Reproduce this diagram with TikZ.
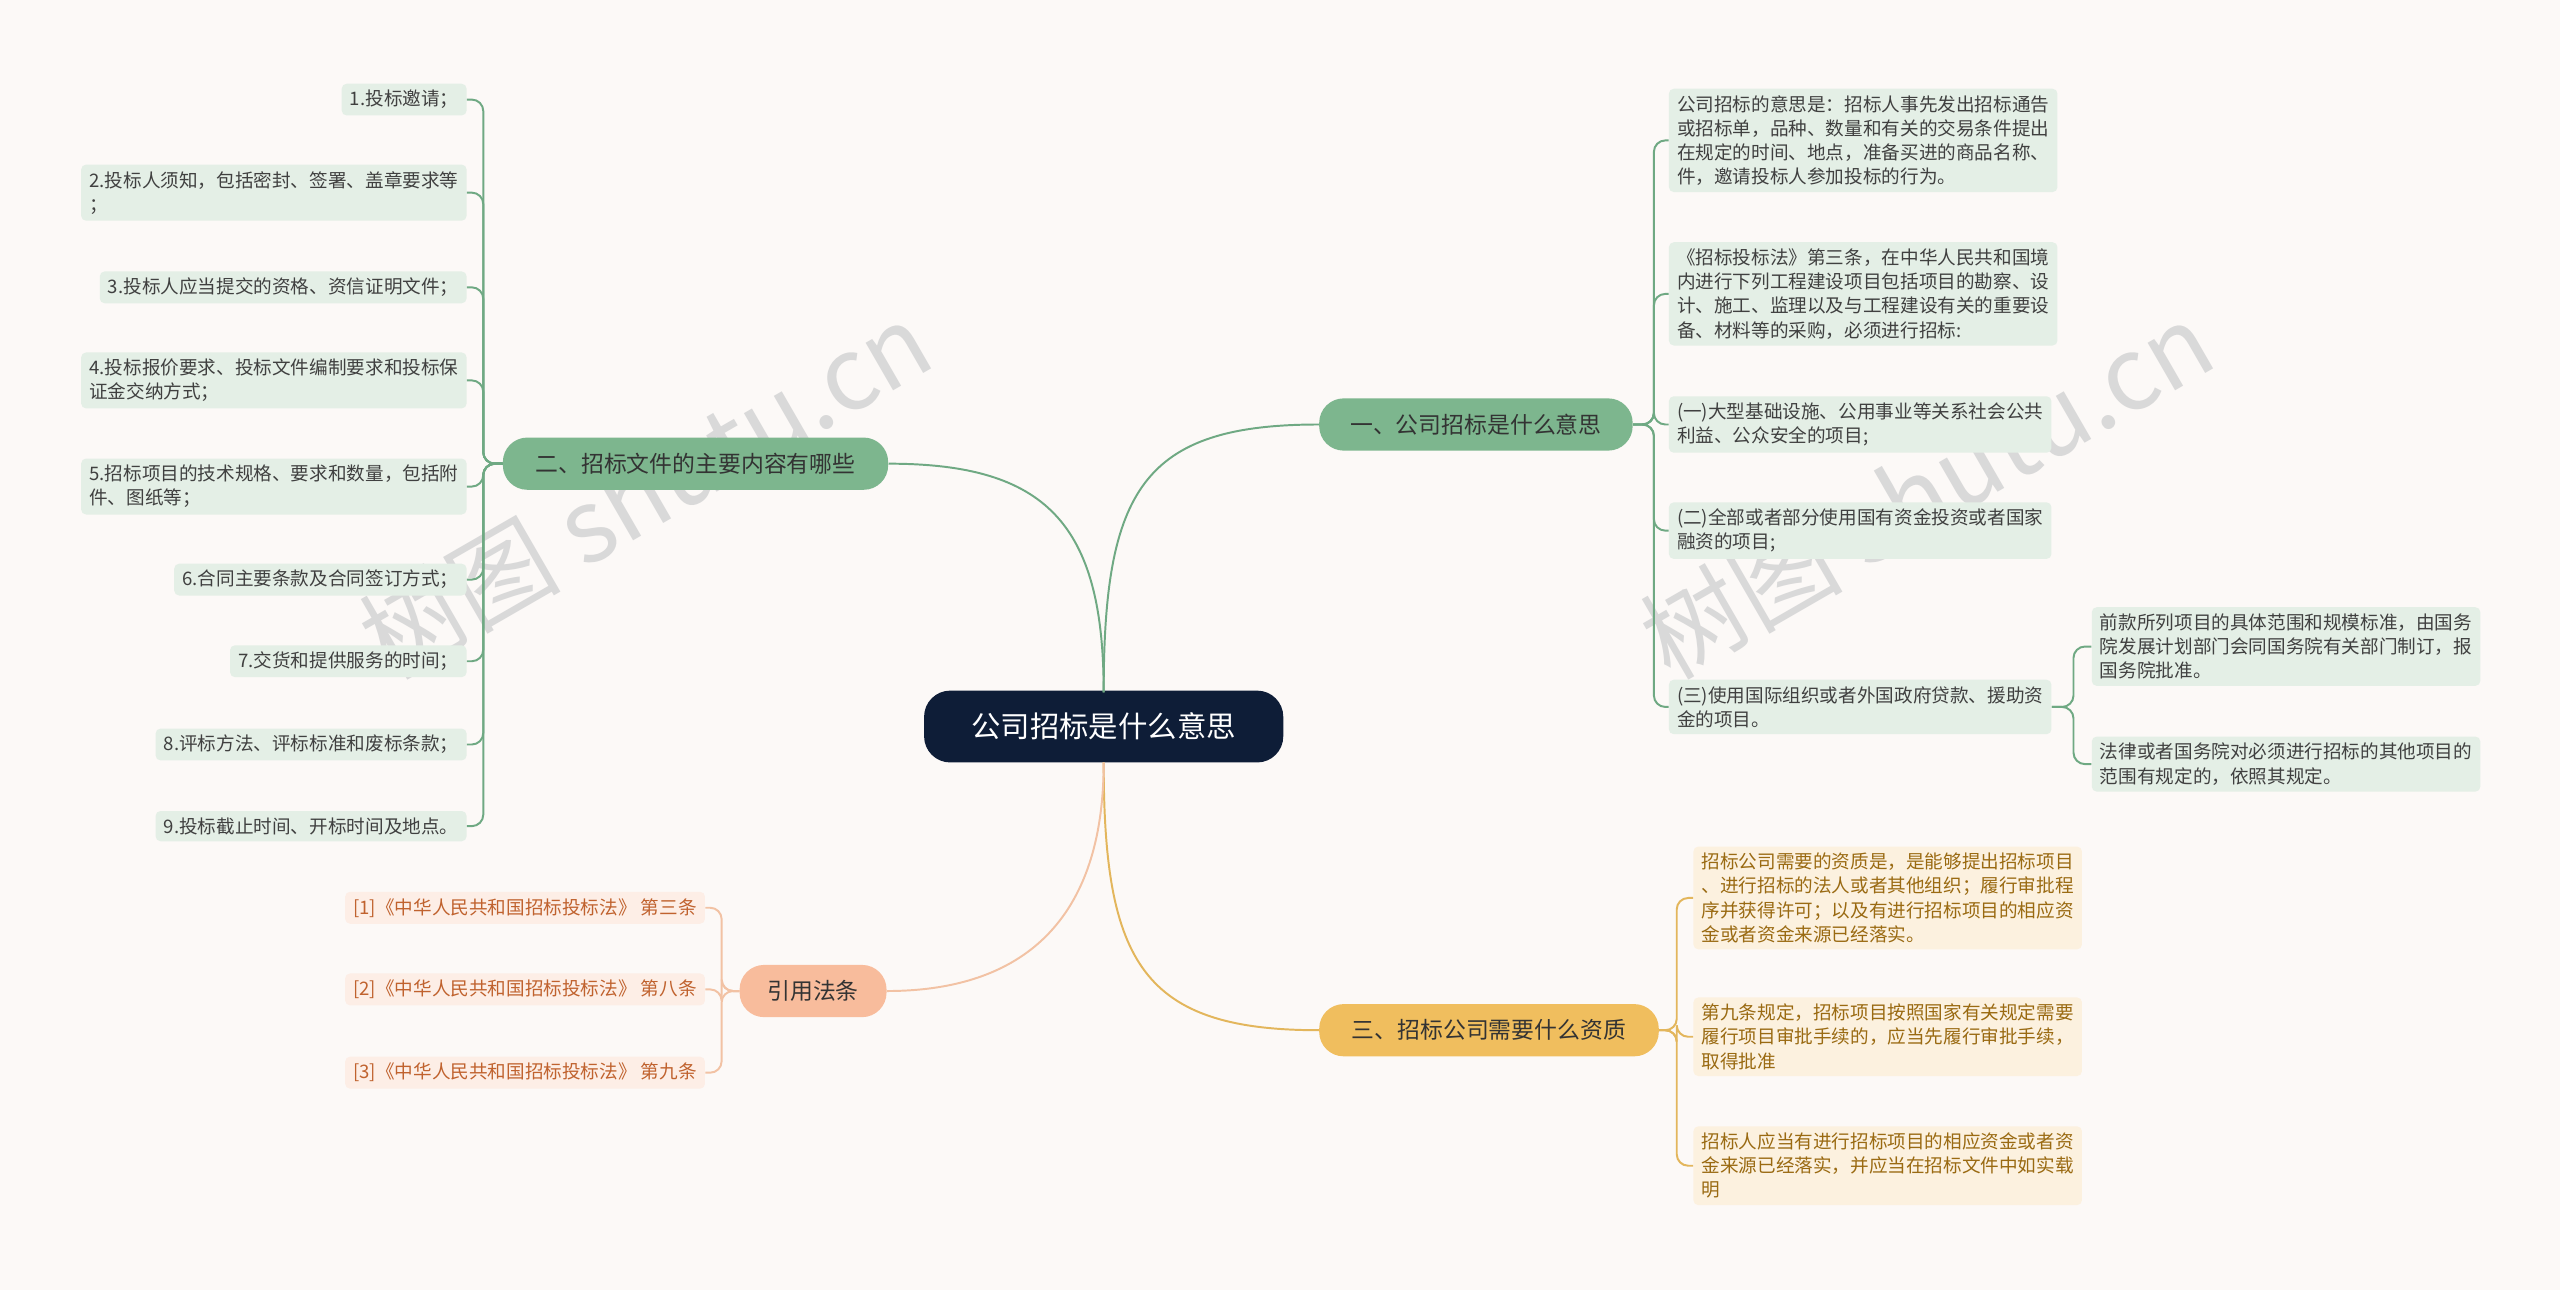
\documentclass[tikz,border=0pt]{standalone}
\usepackage{fontspec}
\setmainfont{Noto Sans CJK SC}
\definecolor{bg}{HTML}{FCF9F7}
\definecolor{navy}{HTML}{0E1D37}
\definecolor{gfill}{HTML}{7DB68E}
\definecolor{gline}{HTML}{6FA983}
\definecolor{gleaf}{HTML}{E4EFE6}
\definecolor{yfill}{HTML}{F0BE5E}
\definecolor{yline}{HTML}{E3B65C}
\definecolor{yleaf}{HTML}{FCF1DF}
\definecolor{ytext}{HTML}{9A6A12}
\definecolor{ofill}{HTML}{F8BC9C}
\definecolor{oline}{HTML}{F2C2A4}
\definecolor{oleaf}{HTML}{FDEEE6}
\definecolor{otext}{HTML}{C0622E}
\tikzset{
 leaf/.style={rounded corners=3pt,inner xsep=5pt,inner ysep=4pt,align=left,font=\fontsize{11.4}{14.8}\selectfont,text=black!75},
 gleafbox/.style={leaf,fill=gleaf},
 yleafbox/.style={leaf,fill=yleaf,text=ytext},
 oleafbox/.style={leaf,fill=oleaf,text=otext},
 branch/.style={rounded corners=15pt,minimum height=32pt,inner xsep=14pt,font=\fontsize{14}{16}\selectfont,text=black!80},
 gc/.style={draw=gline,line width=1.2pt},
 yc/.style={draw=yline,line width=1.2pt},
 oc/.style={draw=oline,line width=1.2pt},
 br/.style={rounded corners=7pt},
}
\begin{document}
\begin{tikzpicture}[x=1pt,y=-1pt]
\fill[bg] (0,0) rectangle (1568,790);
\useasboundingbox (0,0) rectangle (1568,790);
\node[rotate=30,text=black!15,font=\fontsize{62}{62}\selectfont] at (395,300) {树图 shutu.cn};
\node[rotate=30,text=black!15,font=\fontsize{62}{62}\selectfont] at (1180,300) {树图 shutu.cn};

\node[fill=navy,text=white,rounded corners=16pt,minimum width=220pt,minimum height=44pt,font=\fontsize{18}{20}\selectfont] (c) at (676,445) {公司招标是什么意思};
\node[branch,fill=gfill,minimum width=192pt] (b1) at (904,260) {一、公司招标是什么意思};
\node[branch,fill=gfill,minimum width=236pt] (b2) at (426,284) {二、招标文件的主要内容有哪些};
\node[branch,fill=yfill,minimum width=208pt] (b3) at (912,631) {三、招标公司需要什么资质};
\node[branch,fill=ofill,minimum width=90pt] (b4) at (498,607) {引用法条};

\draw[gc] (676,424) .. controls (676,300) and (700,260) .. (b1.west);
\draw[gc] (676,424) .. controls (676,320) and (640,284) .. (b2.east);
\draw[yc] (676,467) .. controls (676,590) and (700,631) .. (b3.west);
\draw[oc] (676,467) .. controls (676,570) and (620,607) .. (b4.east);

% branch 1 leaves
\node[gleafbox,anchor=west] (l1) at (1022,86) {公司招标的意思是：招标人事先发出招标通告\\或招标单，品种、数量和有关的交易条件提出\\在规定的时间、地点，准备买进的商品名称、\\件，邀请投标人参加投标的行为。};
\node[gleafbox,anchor=west] (l2) at (1022,180) {《招标投标法》第三条，在中华人民共和国境\\内进行下列工程建设项目包括项目的勘察、设\\计、施工、监理以及与工程建设有关的重要设\\备、材料等的采购，必须进行招标:};
\node[gleafbox,anchor=west] (l3) at (1022,260) {(一)大型基础设施、公用事业等关系社会公共\\利益、公众安全的项目;};
\node[gleafbox,anchor=west] (l4) at (1022,325) {(二)全部或者部分使用国有资金投资或者国家\\融资的项目;};
\node[gleafbox,anchor=west] (l5) at (1022,433) {(三)使用国际组织或者外国政府贷款、援助资\\金的项目。};
\node[gleafbox,anchor=west] (s1) at (1281,396) {前款所列项目的具体范围和规模标准，由国务\\院发展计划部门会同国务院有关部门制订，报\\国务院批准。};
\node[gleafbox,anchor=west] (s2) at (1281,468) {法律或者国务院对必须进行招标的其他项目的\\范围有规定的，依照其规定。};
\foreach \n in {l1,l2,l3,l4,l5}
  \draw[gc,br] (b1.east) -- (1013,260) -- (1013,0 |- \n.west) -- (\n.west);
\foreach \n in {s1,s2}
  \draw[gc,br] (l5.east) -- (1270,433) -- (1270,0 |- \n.west) -- (\n.west);

% branch 3 leaves
\node[yleafbox,anchor=west] (y1) at (1037,550) {招标公司需要的资质是，是能够提出招标项目\\、进行招标的法人或者其他组织；履行审批程\\序并获得许可；以及有进行招标项目的相应资\\金或者资金来源已经落实。};
\node[yleafbox,anchor=west] (y2) at (1037,635) {第九条规定，招标项目按照国家有关规定需要\\履行项目审批手续的，应当先履行审批手续，\\取得批准};
\node[yleafbox,anchor=west] (y3) at (1037,714) {招标人应当有进行招标项目的相应资金或者资\\金来源已经落实，并应当在招标文件中如实载\\明};
\foreach \n in {y1,y2,y3}
  \draw[yc,br] (b3.east) -- (1027,631) -- (1027,0 |- \n.west) -- (\n.west);

% branch 2 leaves
\node[gleafbox,anchor=east] (m1) at (286,61) {1.投标邀请；};
\node[gleafbox,anchor=east] (m2) at (286,118) {2.投标人须知，包括密封、签署、盖章要求等\\；};
\node[gleafbox,anchor=east] (m3) at (286,176) {3.投标人应当提交的资格、资信证明文件；};
\node[gleafbox,anchor=east] (m4) at (286,233) {4.投标报价要求、投标文件编制要求和投标保\\证金交纳方式；};
\node[gleafbox,anchor=east] (m5) at (286,298) {5.招标项目的技术规格、要求和数量，包括附\\件、图纸等；};
\node[gleafbox,anchor=east] (m6) at (286,355) {6.合同主要条款及合同签订方式；};
\node[gleafbox,anchor=east] (m7) at (286,405) {7.交货和提供服务的时间；};
\node[gleafbox,anchor=east] (m8) at (286,456) {8.评标方法、评标标准和废标条款；};
\node[gleafbox,anchor=east] (m9) at (286,506) {9.投标截止时间、开标时间及地点。};
\foreach \n in {m1,m2,m3,m4,m5,m6,m7,m8,m9}
  \draw[gc,br] (b2.west) -- (296,284) -- (296,0 |- \n.east) -- (\n.east);

% branch 4 leaves
\node[oleafbox,anchor=east] (o1) at (432,556) {[1]《中华人民共和国招标投标法》 第三条};
\node[oleafbox,anchor=east] (o2) at (432,606) {[2]《中华人民共和国招标投标法》 第八条};
\node[oleafbox,anchor=east] (o3) at (432,657) {[3]《中华人民共和国招标投标法》 第九条};
\foreach \n in {o1,o2,o3}
  \draw[oc,br] (b4.west) -- (442,607) -- (442,0 |- \n.east) -- (\n.east);
\end{tikzpicture}
\end{document}
